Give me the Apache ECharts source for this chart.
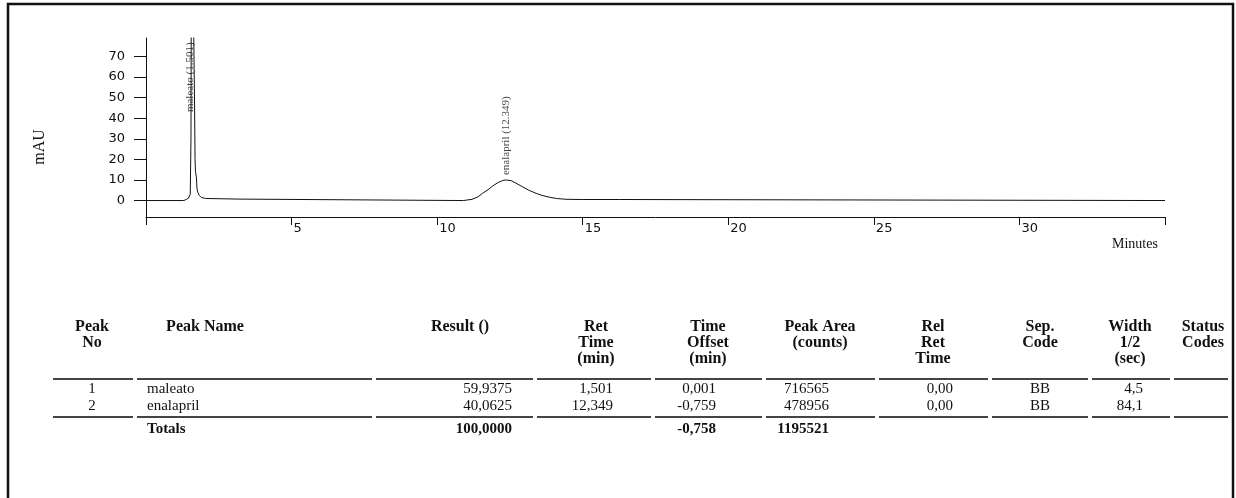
<!DOCTYPE html>
<html>
<head>
<meta charset="utf-8">
<script src="https://cdn.jsdelivr.net/npm/echarts@6/dist/echarts.min.js"></script>
<style>
  html, body { margin: 0; padding: 0; background: #fff; }
  #chart { width: 1236px; height: 498px; }
</style>
</head>
<body>
<div id="chart"></div>
<script>
// chromatogram trace, [minutes, mAU]
var maleatoTrace = [[0, 0], [1.30, 0], [1.38, 0.5], [1.46, 1.2], [1.52, 3], [1.545, 30], [1.555, 100],
  [1.62, 100], [1.64, 80], [1.67, 44], [1.685, 20], [1.70, 14], [1.73, 11.5], [1.75, 6], [1.78, 4],
  [1.83, 2.5], [1.90, 1.5], [2.05, 1.0], [2.10, 0.8], [3.2, 0.7], [3.22, 0]];
var enalaprilTrace = [[10.9, 0], [11.0, 0.2], [11.2, 0.6], [11.4, 1.8], [11.56, 3.5], [11.75, 5.3],
  [11.9, 7], [12.1, 8.8], [12.25, 9.7], [12.35, 10], [12.54, 9.7], [12.7, 8.5], [12.93, 6.7],
  [13.15, 5], [13.4, 3.5], [13.6, 2.5], [13.86, 1.6], [14.1, 1.0], [14.43, 0.6], [15, 0.5],
  [16.26, 0.5], [16.3, 0], [35, 0]];
// peak labels: [minutes, mAU where the label starts, text]
var peakLabels = [[1.50, 43, 'maleato (1.501)'], [12.38, 12.4, 'enalapril (12.349)']];
var yTicks = [0, 10, 20, 30, 40, 50, 60, 70];
var xTicks = [5, 10, 15, 20, 25, 30];

// results table
var tableHeaders = [['Peak', 'No'], ['Peak Name'], ['Result ()'], ['Ret', 'Time', '(min)'],
  ['Time', 'Offset', '(min)'], ['Peak Area', '(counts)'], ['Rel', 'Ret', 'Time'], ['Sep.', 'Code'],
  ['Width', '1/2', '(sec)'], ['Status', 'Codes']];
var peakNo = ['1', '2'];
var peakNames = ['maleato', 'enalapril'];
var results = ['59,9375', '40,0625'];
var retTimes = ['1,501', '12,349'];
var timeOffsets = ['0,001', '-0,759'];
var peakAreas = ['716565', '478956'];
var relRetTimes = ['0,00', '0,00'];
var sepCodes = ['BB', 'BB'];
var widths = ['4,5', '84,1'];
var statusCodes = ['', ''];
var totals = ['', 'Totals', '100,0000', '', '-0,758', '1195521', '', '', '', ''];

var chart = echarts.init(document.getElementById('chart'));

// column layout: rule segment l..r, header centre hx, value anchor vx, value alignment
var cols = [
  { l: 53, r: 133, hx: 92, vx: 92, al: 'center' },
  { l: 137, r: 372, hx: 205, vx: 147, al: 'left' },
  { l: 376, r: 533, hx: 460, vx: 512, al: 'right' },
  { l: 537, r: 651, hx: 596, vx: 613, al: 'right' },
  { l: 655, r: 762, hx: 708, vx: 716, al: 'right' },
  { l: 766, r: 875, hx: 820, vx: 829, al: 'right' },
  { l: 879, r: 988, hx: 933, vx: 953, al: 'right' },
  { l: 992, r: 1088, hx: 1040, vx: 1040, al: 'center' },
  { l: 1092, r: 1170, hx: 1130, vx: 1143, al: 'right' },
  { l: 1174, r: 1228, hx: 1203, vx: 1201, al: 'center' }
];
var rowCols = [peakNo, peakNames, results, retTimes, timeOffsets, peakAreas, relRetTimes, sepCodes, widths, statusCodes];
var serif = '"Liberation Serif", "Times New Roman", serif';
var graphics = [];
graphics.push({ type: 'rect', shape: { x: 8, y: 4, width: 1225, height: 520 },
  style: { fill: 'none', stroke: '#111', lineWidth: 2.5 } });
graphics.push({ type: 'text', x: 40, y: 147, rotation: Math.PI / 2,
  style: { text: 'mAU', font: '16px ' + serif, fill: '#111', textAlign: 'center', textVerticalAlign: 'middle' } });
graphics.push({ type: 'text', x: 1112, y: 244,
  style: { text: 'Minutes', font: '14px ' + serif, fill: '#111', textAlign: 'left', textVerticalAlign: 'middle' } });
cols.forEach(function (c, i) {
  tableHeaders[i].forEach(function (t, j) {
    graphics.push({ type: 'text', x: c.hx, y: 327 + j * 16,
      style: { text: t, font: 'bold 16px ' + serif, fill: '#111', textAlign: 'center', textVerticalAlign: 'middle' } });
  });
  rowCols[i].forEach(function (t, r) {
    graphics.push({ type: 'text', x: c.vx, y: 389 + r * 17,
      style: { text: t, font: '15px ' + serif, fill: '#111', textAlign: c.al, textVerticalAlign: 'middle' } });
  });
  graphics.push({ type: 'text', x: c.vx, y: 429,
    style: { text: totals[i], font: 'bold 15px ' + serif, fill: '#111',
      textAlign: c.al, textVerticalAlign: 'middle' } });
  [379, 417].forEach(function (ly) {
    graphics.push({ type: 'line', shape: { x1: c.l, y1: ly, x2: c.r, y2: ly },
      style: { stroke: '#444', lineWidth: 2 } });
  });
});

var sans = '"DejaVu Sans", Verdana, sans-serif';
var option = {
  animation: false,
  backgroundColor: '#fff',
  grid: { left: 146, right: 71, top: 38, bottom: 281, containLabel: false },
  xAxis: {
    type: 'value', min: 0, max: 35, interval: 5,
    axisLine: { onZero: false, lineStyle: { color: '#111', width: 1 } },
    axisTick: { length: 8, lineStyle: { color: '#111' } },
    splitLine: { show: false },
    axisLabel: {
      margin: 5, align: 'left', padding: [0, 0, 0, 2], color: '#111', fontSize: 13, fontFamily: sans,
      formatter: function (v) { return xTicks.indexOf(v) >= 0 ? String(v) : ''; }
    }
  },
  yAxis: {
    type: 'value', min: -8, max: 79,
    axisLine: { lineStyle: { color: '#111', width: 1 } },
    axisTick: { length: 12, customValues: yTicks, lineStyle: { color: '#111' } },
    splitLine: { show: false },
    axisLabel: { customValues: yTicks, margin: 21, color: '#111', fontSize: 13, fontFamily: sans }
  },
  series: [
    { type: 'line', data: maleatoTrace.concat(enalaprilTrace), showSymbol: false, clip: true,
      lineStyle: { color: '#111', width: 1 } },
    { type: 'scatter', data: peakLabels, symbolSize: 0,
      label: { show: true, position: 'inside', rotate: 90, align: 'left', verticalAlign: 'middle',
        formatter: function (p) { return p.data[2]; }, color: '#111', fontSize: 11, fontFamily: serif } }
  ],
  graphic: graphics
};
chart.setOption(option);
window.addEventListener('resize', function () { chart.resize(); });
</script>
</body>
</html>
